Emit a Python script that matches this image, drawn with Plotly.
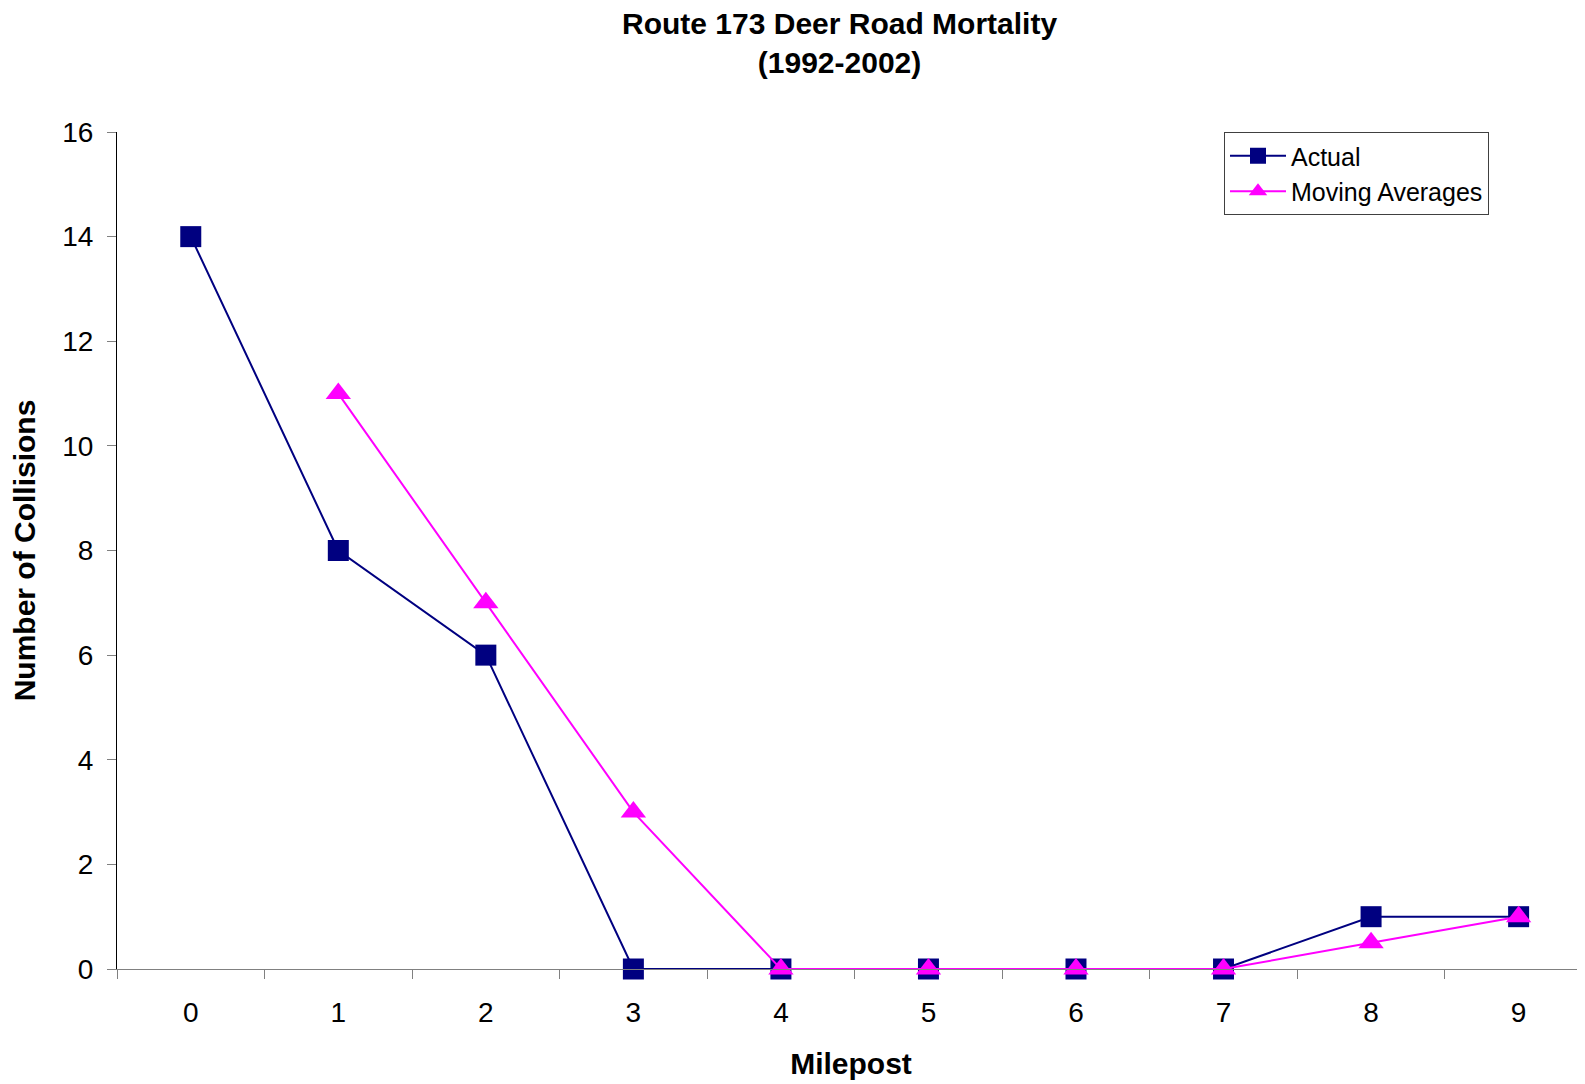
import plotly.graph_objects as go

# Milepost categories and collision counts
mileposts = ["0", "1", "2", "3", "4", "5", "6", "7", "8", "9"]
actual = [14, 8, 6, 0, 0, 0, 0, 0, 1, 1]
moving_avg = [None, 11, 7, 3, 0, 0, 0, 0, 0.5, 1]

FONT = "Liberation Sans, Arial, sans-serif"

actual_trace = go.Scatter(
    x=mileposts, y=actual, name="Actual", mode="lines+markers",
    line=dict(color="#000080", width=2),
    marker=dict(symbol="square", size=21, color="#000080"),
    cliponaxis=False,
)
avg_trace = go.Scatter(
    x=mileposts, y=moving_avg, name="Moving Averages", mode="lines+markers",
    line=dict(color="#FF00FF", width=2),
    marker=dict(symbol="triangle-up", size=22, color="#FF00FF"),
    cliponaxis=False,
)

# page body has an 8px margin, so the figure is shrunk by that much
layout = go.Layout(
    width=1577, height=1076,
    margin=dict(l=109, r=0, t=124, b=115, autoexpand=False),
    paper_bgcolor="white", plot_bgcolor="white",
    font=dict(family=FONT, color="black"),
    xaxis=dict(
        type="category", range=[-0.5, 9.45], automargin=False,
        tickson="boundaries", ticks="outside", ticklen=9, tickcolor="#808080",
        showline=True, linecolor="#808080", linewidth=1,
        showgrid=False, zeroline=False,
        tickfont=dict(size=28, family=FONT, color="black"),
        ticklabelstandoff=18,
        title=dict(text="<b>Milepost</b>", font=dict(size=30, family=FONT), standoff=26),
    ),
    yaxis=dict(
        range=[0, 16], dtick=2, ticks="outside", ticklen=9, tickcolor="#808080",
        showline=True, linecolor="black", linewidth=1, automargin=False,
        showgrid=False, zeroline=False,
        tickfont=dict(size=28, family=FONT, color="black"),
        ticklabelstandoff=8,
        title=dict(text="<b>Number of Collisions</b>", font=dict(size=30, family=FONT), standoff=20),
    ),
    legend=dict(
        x=(1224 - 117) / 1468, y=(969 - 132) / 837, xanchor="left", yanchor="top",
        bordercolor="#404040", borderwidth=1, bgcolor="white",
        font=dict(size=25, family=FONT, color="black"),
        itemwidth=56, tracegroupgap=0,
    ),
    annotations=[dict(
        text="<b>Route 173 Deer Road Mortality<br>(1992-2002)</b>",
        x=(839 - 117) / 1468, xref="paper", xanchor="center",
        y=(969 - 5) / 837, yref="paper", yanchor="top", showarrow=False,
        font=dict(size=30, family=FONT, color="black"),
    )],
    showlegend=True,
)

fig = go.Figure(data=[actual_trace, avg_trace], layout=layout)
fig.write_html("out.html")
